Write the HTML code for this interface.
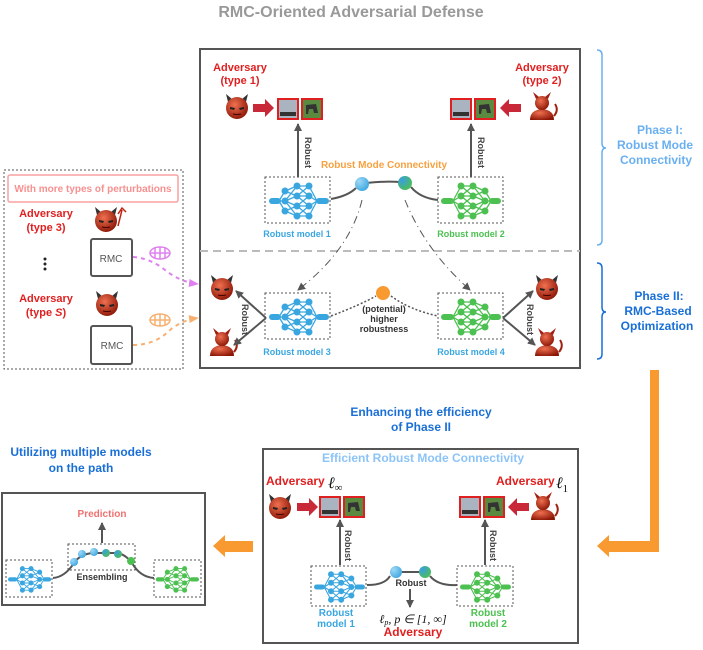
<!DOCTYPE html>
<html><head><meta charset="utf-8"><style>
html,body{margin:0;padding:0;background:#fff}
svg{display:block}
text{font-family:"Liberation Sans",sans-serif;font-weight:bold}
</style></head><body>
<svg width="703" height="650" viewBox="0 0 703 650" xmlns="http://www.w3.org/2000/svg">
<defs>
<radialGradient id="rg" cx="0.4" cy="0.35" r="0.7"><stop offset="0" stop-color="#f07050"/><stop offset="1" stop-color="#8a1505"/></radialGradient>
<radialGradient id="bl" cx="0.3" cy="0.3" r="0.8"><stop offset="0" stop-color="#9fd8f5"/><stop offset="1" stop-color="#3aa6e0"/></radialGradient>
<radialGradient id="gr" cx="0.3" cy="0.3" r="0.8"><stop offset="0" stop-color="#3a9ee0"/><stop offset="1" stop-color="#4cc050"/></radialGradient>
<g id="net">
 <g stroke="currentColor" stroke-width="1.3" fill="none">
  <path d="M12 20L20 5M12 20L20 15M12 20L20 25M12 20L20 35"/>
  <path d="M20 5L32 5M20 5L32 15M20 15L32 5M20 15L32 25M20 25L32 15M20 25L32 35M20 35L32 25M20 35L32 35M20 15L32 15M20 25L32 25"/>
  <path d="M32 5L44 10M32 15L44 10M32 15L44 20M32 25L44 20M32 25L44 30M32 35L44 30M32 5L44 20M32 35L44 20"/>
  <path d="M44 10L50 20M44 20L50 20M44 30L50 20"/>
 </g>
 <g fill="currentColor">
  <rect x="0" y="17" width="13" height="6" rx="3"/>
  <circle cx="20" cy="5" r="3.5"/><circle cx="20" cy="15" r="3.5"/><circle cx="20" cy="25" r="3.5"/><circle cx="20" cy="35" r="3.5"/>
  <circle cx="32" cy="5" r="3.5"/><circle cx="32" cy="15" r="3.5"/><circle cx="32" cy="25" r="3.5"/><circle cx="32" cy="35" r="3.5"/>
  <circle cx="44" cy="10" r="3.5"/><circle cx="44" cy="20" r="3.5"/><circle cx="44" cy="30" r="3.5"/>
  <rect x="48" y="17" width="12" height="6" rx="3"/>
 </g>
</g>
<g id="devil">
 <path d="M-9 -6L-11 -14L-5 -9Z M9 -6L11 -14L5 -9Z" fill="#333"/>
 <circle r="11" fill="url(#rg)"/>
 <path d="M-7 -1L-2 0L-3 2L-7 1Z M7 -1L2 0L3 2L7 1Z" fill="#222"/>
 <path d="M-4 6Q0 7 4 6" stroke="#400" fill="none"/>
</g>
<g id="bust">
 <path d="M-12 12Q-12 2 0 1Q12 2 12 12Z" fill="url(#rg)"/>
 <circle cx="0" cy="-5" r="7" fill="url(#rg)"/>
 <path d="M-6 -9L-9 -16L-3 -11Z M6 -9L9 -16L3 -11Z" fill="#a02010"/>
 <path d="M12 8Q17 2 13 -4" stroke="#a02010" stroke-width="2" fill="none"/>
</g>
<g id="imgs">
 <rect x="0" y="0" width="20" height="20" fill="#aab4c0" stroke="#e02020" stroke-width="2"/>
 <rect x="2" y="13" width="16" height="4" fill="#333"/>
 <rect x="24" y="0" width="20" height="20" fill="#5a8a40" stroke="#e02020" stroke-width="2"/>
 <path d="M28 6L38 5L40 14L36 14L35 10L31 10L30 15L28 15Z" fill="#333"/>
</g>
<marker id="ah" markerWidth="8" markerHeight="8" refX="7" refY="4" orient="auto" markerUnits="userSpaceOnUse"><path d="M0 0L8 4L0 8Z" fill="#555"/></marker>
<marker id="ahp" markerWidth="10" markerHeight="8" refX="9" refY="4" orient="auto" markerUnits="userSpaceOnUse"><path d="M0 0L10 4L0 8Z" fill="#e080f0"/></marker>
<marker id="aho" markerWidth="10" markerHeight="8" refX="9" refY="4" orient="auto" markerUnits="userSpaceOnUse"><path d="M0 0L10 4L0 8Z" fill="#f8b070"/></marker>
</defs>

<text x="351" y="17" text-anchor="middle" font-size="16" fill="#999">RMC-Oriented Adversarial Defense</text>

<rect x="200" y="49" width="380" height="319" fill="none" stroke="#555" stroke-width="2"/>
<line x1="200" y1="251" x2="580" y2="251" stroke="#bbb" stroke-width="2" stroke-dasharray="8,5"/>

<text x="240" y="71" text-anchor="middle" font-size="11" fill="#e02020">Adversary</text>
<text x="240" y="84" text-anchor="middle" font-size="11" fill="#e02020">(type 1)</text>
<text x="542" y="71" text-anchor="middle" font-size="11" fill="#e02020">Adversary</text>
<text x="542" y="84" text-anchor="middle" font-size="11" fill="#e02020">(type 2)</text>
<use href="#devil" x="237" y="108"/>
<path d="M253 104H265V99L274 108L265 117V112H253Z" fill="#c82838"/>
<use href="#imgs" x="278" y="99"/>
<use href="#imgs" x="451" y="99"/>
<path d="M521 104H509V99L500 108L509 117V112H521Z" fill="#c82838"/>
<use href="#bust" x="542" y="108"/>

<line x1="298" y1="177" x2="298" y2="124" stroke="#555" stroke-width="2" marker-end="url(#ah)"/>
<line x1="471" y1="177" x2="471" y2="124" stroke="#555" stroke-width="2" marker-end="url(#ah)"/>
<text transform="translate(305,137) rotate(90)" font-size="9" fill="#444">Robust</text>
<text transform="translate(478,137) rotate(90)" font-size="9" fill="#444">Robust</text>

<text x="384" y="168" text-anchor="middle" font-size="10" fill="#f8a040">Robust Mode Connectivity</text>
<rect x="265" y="177" width="65" height="46" fill="none" stroke="#555" stroke-dasharray="2,2"/>
<rect x="438" y="177" width="65" height="46" fill="none" stroke="#555" stroke-dasharray="2,2"/>
<use href="#net" transform="translate(329,181) scale(-1,1)" color="#3aa6e0"/>
<use href="#net" x="441" y="181" color="#4cc050"/>
<text x="297" y="237" text-anchor="middle" font-size="9" fill="#3aa6e0">Robust model 1</text>
<text x="471" y="237" text-anchor="middle" font-size="9" fill="#4cc050">Robust model 2</text>
<path d="M331 199Q348 196 356 188 M366 183Q384 181 400 182 M411 187Q420 198 438 200" stroke="#555" stroke-width="2" fill="none"/>
<circle cx="362" cy="184" r="7" fill="url(#bl)"/>
<circle cx="405" cy="183" r="7" fill="url(#gr)"/>
<path d="M362 200Q350 250 298 290" stroke="#555" stroke-dasharray="8,4,1,4" fill="none" marker-end="url(#ah)"/>
<path d="M405 200Q425 250 470 290" stroke="#555" stroke-dasharray="8,4,1,4" fill="none" marker-end="url(#ah)"/>

<rect x="265" y="293" width="65" height="46" fill="none" stroke="#555" stroke-dasharray="2,2"/>
<rect x="438" y="293" width="65" height="46" fill="none" stroke="#555" stroke-dasharray="2,2"/>
<use href="#net" transform="translate(329,297) scale(-1,1)" color="#3aa6e0"/>
<use href="#net" x="441" y="297" color="#4cc050"/>
<text x="297" y="355" text-anchor="middle" font-size="9" fill="#3aa6e0">Robust model 3</text>
<text x="471" y="355" text-anchor="middle" font-size="9" fill="#3aa6e0">Robust model 4</text>
<path d="M331 316Q360 305 376 296 M391 296Q410 310 438 316" stroke="#555" stroke-width="1.5" stroke-dasharray="2,2" fill="none"/>
<circle cx="383" cy="293" r="7" fill="#f89a30"/>
<text x="384" y="312" text-anchor="middle" font-size="9" fill="#333">(potential)</text>
<text x="384" y="322" text-anchor="middle" font-size="9" fill="#333">higher</text>
<text x="384" y="332" text-anchor="middle" font-size="9" fill="#333">robustness</text>
<use href="#devil" x="222" y="289"/>
<use href="#bust" x="222" y="344"/>
<line x1="266" y1="318" x2="236" y2="291" stroke="#555" stroke-width="2" marker-end="url(#ah)"/>
<line x1="266" y1="318" x2="234" y2="345" stroke="#555" stroke-width="2" marker-end="url(#ah)"/>
<text transform="translate(242,304) rotate(90)" font-size="9" fill="#444">Robust</text>
<use href="#devil" x="547" y="289"/>
<use href="#bust" x="547" y="344"/>
<line x1="503" y1="318" x2="533" y2="291" stroke="#555" stroke-width="2" marker-end="url(#ah)"/>
<line x1="503" y1="318" x2="535" y2="345" stroke="#555" stroke-width="2" marker-end="url(#ah)"/>
<text transform="translate(527,304) rotate(90)" font-size="9" fill="#444">Robust</text>

<path d="M597 50Q602 50 602 55V143Q602 148 606 148Q602 148 602 153V240Q602 245 597 245" stroke="#6ab0f0" stroke-width="1.5" fill="none"/>
<text x="660" y="134" text-anchor="middle" font-size="12" fill="#6ab0f0">Phase I:</text>
<text x="655" y="149" text-anchor="middle" font-size="12" fill="#6ab0f0">Robust Mode</text>
<text x="656" y="164" text-anchor="middle" font-size="12" fill="#6ab0f0">Connectivity</text>
<path d="M597 263Q602 263 602 268V307Q602 312 606 312Q602 312 602 317V354Q602 359 597 359" stroke="#1a6fd6" stroke-width="1.5" fill="none"/>
<text x="659" y="300" text-anchor="middle" font-size="12" fill="#1a6fd6">Phase II:</text>
<text x="658" y="315" text-anchor="middle" font-size="12" fill="#1a6fd6">RMC-Based</text>
<text x="657" y="330" text-anchor="middle" font-size="12" fill="#1a6fd6">Optimization</text>

<rect x="4" y="170" width="179" height="199" fill="none" stroke="#555" stroke-dasharray="2,2"/>
<rect x="8" y="175" width="170" height="27" rx="2" fill="none" stroke="#f8a0a0" stroke-width="1.5"/>
<text x="93" y="192" text-anchor="middle" font-size="10" fill="#f89090">With more types of perturbations</text>
<text x="46" y="217" text-anchor="middle" font-size="11" fill="#e02020">Adversary</text>
<text x="46" y="231" text-anchor="middle" font-size="11" fill="#e02020">(type 3)</text>
<text x="46" y="302" text-anchor="middle" font-size="11" fill="#e02020">Adversary</text>
<text x="46" y="316" text-anchor="middle" font-size="11" fill="#e02020">(type <tspan font-style="italic">S</tspan>)</text>
<use href="#devil" x="106" y="221"/>
<path d="M118 226L122 210M118 214L122 208L126 212" stroke="#c02010" stroke-width="1.5" fill="none"/>
<use href="#devil" x="107" y="305"/>
<circle cx="45" cy="259" r="1.5" fill="#222"/><circle cx="45" cy="264" r="1.5" fill="#222"/><circle cx="45" cy="269" r="1.5" fill="#222"/>
<rect x="91" y="239" width="41" height="37" rx="2" fill="#fff" stroke="#555" stroke-width="2"/>
<text x="111" y="262" text-anchor="middle" font-size="10" style="font-weight:normal" fill="#555">RMC</text>
<rect x="91" y="326" width="41" height="38" rx="2" fill="#fff" stroke="#555" stroke-width="2"/>
<text x="112" y="349" text-anchor="middle" font-size="10" style="font-weight:normal" fill="#555">RMC</text>
<path d="M133 257Q150 258 165 270Q180 282 198 284" stroke="#e080f0" stroke-width="2" stroke-dasharray="4,4" fill="none" marker-end="url(#ahp)"/>
<path d="M133 345Q155 345 170 330Q182 320 198 318" stroke="#f8b070" stroke-width="2" stroke-dasharray="4,4" fill="none" marker-end="url(#aho)"/>
<g fill="none" stroke="#e080f0" stroke-width="1.5"><ellipse cx="160" cy="253" rx="10" ry="6"/><path d="M150 253H170M155 248V258M160 247V259M165 248V258"/></g>
<g fill="none" stroke="#f8b070" stroke-width="1.5"><ellipse cx="160" cy="320" rx="10" ry="6"/><path d="M150 320H170M155 315V325M160 314V326M165 315V325"/></g>

<path d="M650 370H659V552H609V557L597 546L609 535V541H650Z" fill="#f89a30"/>
<path d="M253 541H225V535L213 546L225 557V552H253Z" fill="#f89a30"/>

<text x="421" y="416" text-anchor="middle" font-size="12" fill="#1a6fd6">Enhancing the efficiency</text>
<text x="421" y="431" text-anchor="middle" font-size="12" fill="#1a6fd6">of Phase II</text>
<text x="81" y="456" text-anchor="middle" font-size="12" fill="#1a6fd6">Utilizing multiple models</text>
<text x="81" y="472" text-anchor="middle" font-size="12" fill="#1a6fd6">on the path</text>

<rect x="263" y="449" width="315" height="194" fill="none" stroke="#555" stroke-width="2"/>
<text x="423" y="462" text-anchor="middle" font-size="12" fill="#8cc4f8">Efficient Robust Mode Connectivity</text>
<text x="266" y="485" font-size="12" fill="#e02020">Adversary</text>
<text x="328" y="488" style="font-family:'Liberation Serif',serif;font-style:italic;font-weight:normal;font-size:16px" fill="#111">ℓ<tspan style="font-size:11px;font-style:normal" dy="3">∞</tspan></text>
<text x="496" y="485" font-size="12" fill="#e02020">Adversary</text>
<text x="556" y="488" style="font-family:'Liberation Serif',serif;font-style:italic;font-weight:normal;font-size:16px" fill="#111">ℓ<tspan style="font-size:11px;font-style:normal" dy="4">1</tspan></text>
<use href="#devil" x="280" y="508"/>
<path d="M297 503H309V498L318 507L309 516V511H297Z" fill="#c82838"/>
<use href="#imgs" x="320" y="497"/>
<use href="#imgs" x="460" y="497"/>
<path d="M529 503H517V498L508 507L517 516V511H529Z" fill="#c82838"/>
<use href="#bust" x="543" y="508"/>
<line x1="340" y1="565" x2="340" y2="520" stroke="#555" stroke-width="2" marker-end="url(#ah)"/>
<line x1="485" y1="565" x2="485" y2="520" stroke="#555" stroke-width="2" marker-end="url(#ah)"/>
<text transform="translate(345,530) rotate(90)" font-size="9" fill="#444">Robust</text>
<text transform="translate(490,530) rotate(90)" font-size="9" fill="#444">Robust</text>
<rect x="311" y="566" width="55" height="40" fill="none" stroke="#555" stroke-dasharray="2,2"/>
<rect x="457" y="566" width="56" height="40" fill="none" stroke="#555" stroke-dasharray="2,2"/>
<use href="#net" transform="translate(314,570) scale(0.85)" color="#3aa6e0"/>
<use href="#net" transform="translate(460,570) scale(0.85)" color="#4cc050"/>
<path d="M367 585Q385 585 390 576 M402 572H419 M430 576Q438 586 457 585" stroke="#555" stroke-width="2" fill="none"/>
<circle cx="396" cy="572" r="6" fill="url(#bl)"/>
<circle cx="425" cy="572" r="6" fill="url(#gr)"/>
<text x="411" y="586" text-anchor="middle" font-size="9" fill="#333">Robust</text>
<line x1="410" y1="589" x2="410" y2="607" stroke="#555" stroke-width="2" marker-end="url(#ah)"/>
<text x="336" y="616" text-anchor="middle" font-size="10" fill="#3aa6e0">Robust</text>
<text x="336" y="627" text-anchor="middle" font-size="10" fill="#3aa6e0">model 1</text>
<text x="488" y="616" text-anchor="middle" font-size="10" fill="#4cc050">Robust</text>
<text x="488" y="627" text-anchor="middle" font-size="10" fill="#4cc050">model 2</text>
<text x="413" y="623" text-anchor="middle" style="font-family:'Liberation Serif',serif;font-style:italic;font-weight:normal;font-size:12px" fill="#111">ℓ<tspan style="font-size:8px" dy="2">p</tspan><tspan dy="-2">, p ∈ [1, ∞]</tspan></text>
<text x="413" y="636" text-anchor="middle" font-size="12" fill="#e02020">Adversary</text>

<rect x="2" y="493" width="203" height="112" fill="none" stroke="#555" stroke-width="2"/>
<text x="102" y="517" text-anchor="middle" font-size="10" fill="#f07070">Prediction</text>
<line x1="102" y1="543" x2="102" y2="523" stroke="#555" stroke-width="2" marker-end="url(#ah)"/>
<rect x="68" y="544" width="67" height="26" fill="none" stroke="#555" stroke-dasharray="2,2"/>
<text x="102" y="580" text-anchor="middle" font-size="9" fill="#333">Ensembling</text>
<rect x="6" y="560" width="46" height="37" fill="none" stroke="#555" stroke-dasharray="2,2"/>
<rect x="154" y="560" width="47" height="37" fill="none" stroke="#555" stroke-dasharray="2,2"/>
<use href="#net" transform="translate(8,565) scale(0.72)" color="#3aa6e0"/>
<use href="#net" transform="translate(199,565) scale(-0.72,0.72)" color="#4cc050"/>
<path d="M53 578Q65 577 74 563Q80 554 93 553H118Q126 555 132 563Q140 577 154 578" stroke="#555" stroke-width="2" fill="none"/>
<circle cx="74" cy="562" r="4" fill="url(#bl)"/><circle cx="82" cy="554" r="4" fill="url(#bl)"/><circle cx="94" cy="552" r="4" fill="url(#bl)"/>
<circle cx="106" cy="553" r="4" fill="url(#gr)"/><circle cx="118" cy="554" r="4" fill="url(#gr)"/><circle cx="131" cy="561" r="4" fill="#4cc050"/>
</svg>
</body></html>
